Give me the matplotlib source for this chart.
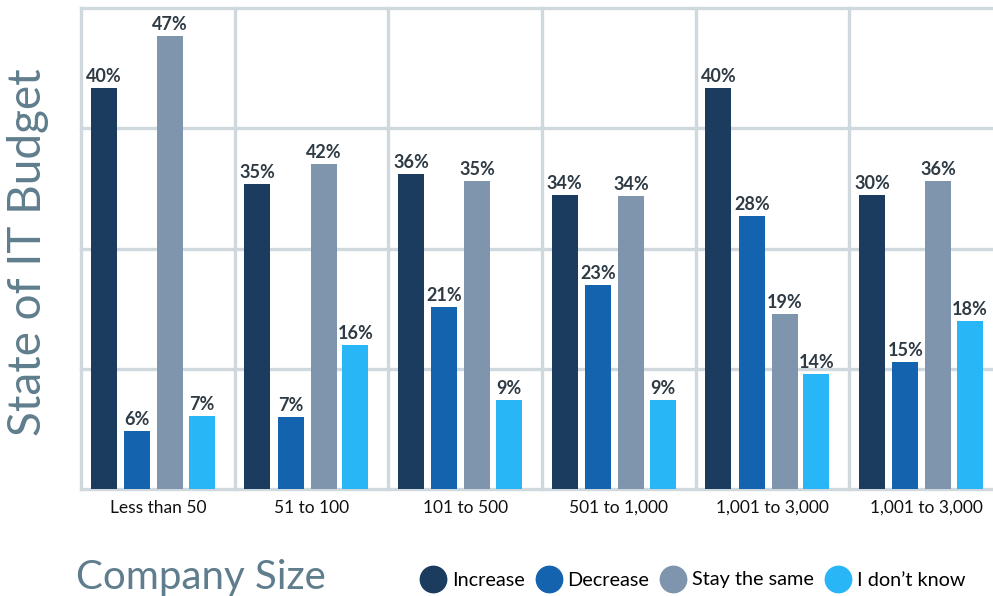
import matplotlib.pyplot as plt
from matplotlib.lines import Line2D
import numpy as np

plt.rcParams['font.family'] = ['Lato', 'DejaVu Sans']

# company size groups (the last label is repeated in the original)
groups = ["Less than 50", "51 to 100", "101 to 500", "501 to 1,000", "1,001 to 3,000", "1,001 to 3,000"]
series = ["Increase", "Decrease", "Stay the same", "I don\u2019t know"]
colors = ["#1b3b5f", "#1463ae", "#7f95ad", "#29b6f6"]

# bar heights as drawn (they do not follow the printed labels exactly)
increase = [40.0, 30.4, 31.4, 29.3, 40.0, 29.3]
decrease = [5.8, 7.2, 18.2, 20.4, 27.2, 12.7]
stay_same = [45.2, 32.4, 30.7, 29.2, 17.5, 30.7]
dont_know = [7.3, 14.4, 8.9, 8.9, 11.5, 16.8]

# printed labels
increase_lbl = [40, 35, 36, 34, 40, 30]
decrease_lbl = [6, 7, 21, 23, 28, 15]
stay_same_lbl = [47, 42, 35, 34, 19, 36]
dont_know_lbl = [7, 16, 9, 9, 14, 18]

heights = [increase, decrease, stay_same, dont_know]
labels = [increase_lbl, decrease_lbl, stay_same_lbl, dont_know_lbl]

fig = plt.figure(figsize=(9.93, 5.96), dpi=100)
ax = fig.add_axes([81 / 993, 107 / 596, 922 / 993, 481 / 596])

grid_c = "#cfd8dc"
for yv in [0, 12, 24, 36, 48]:
    ax.axhline(yv, color=grid_c, lw=2.4, zorder=0, clip_on=False)
for i in range(len(groups) + 1):
    ax.axvline(i - 0.5, color=grid_c, lw=2.4, zorder=0, clip_on=False)

x = np.arange(len(groups))
offsets = [-0.352, -0.135, 0.08, 0.286]
w = 0.169
for k in range(4):
    bars = ax.bar(x + offsets[k], heights[k], w, color=colors[k], zorder=2)
    for b, lab in zip(bars, labels[k]):
        ax.text(b.get_x() + b.get_width() / 2, b.get_height() + 0.3, f"{lab}%",
                ha="center", va="bottom", fontsize=13, fontweight="bold",
                color="#2e3a44", zorder=3)

ax.set_xlim(-0.5, 5.5)
ax.set_ylim(0, 48)
ax.set_yticks([])
ax.set_xticks(x)
ax.set_xticklabels(groups, fontsize=12.5, color="#111111")
ax.tick_params(axis="x", length=0, pad=8)
for s in ax.spines.values():
    s.set_visible(False)

title_c = "#5f7d8c"
fig.text(28 / 993, 1 - 252 / 596, "State of IT Budget", rotation=90,
         ha="center", va="center", fontsize=33, color=title_c)
fig.text(76 / 993, 1 - 578 / 596, "Company Size", ha="left", va="center",
         fontsize=29, color=title_c)

handles = [Line2D([0], [0], marker="o", ls="", markersize=19,
                  markerfacecolor=c, markeredgecolor=c) for c in colors]
fig.legend(handles, series, loc="center right", bbox_to_anchor=(0.99, 1 - 580 / 596),
           ncol=4, frameon=False, fontsize=14.3, handletextpad=0.3,
           columnspacing=0.55, handlelength=1.3)

fig.savefig("out.png", dpi=100)
